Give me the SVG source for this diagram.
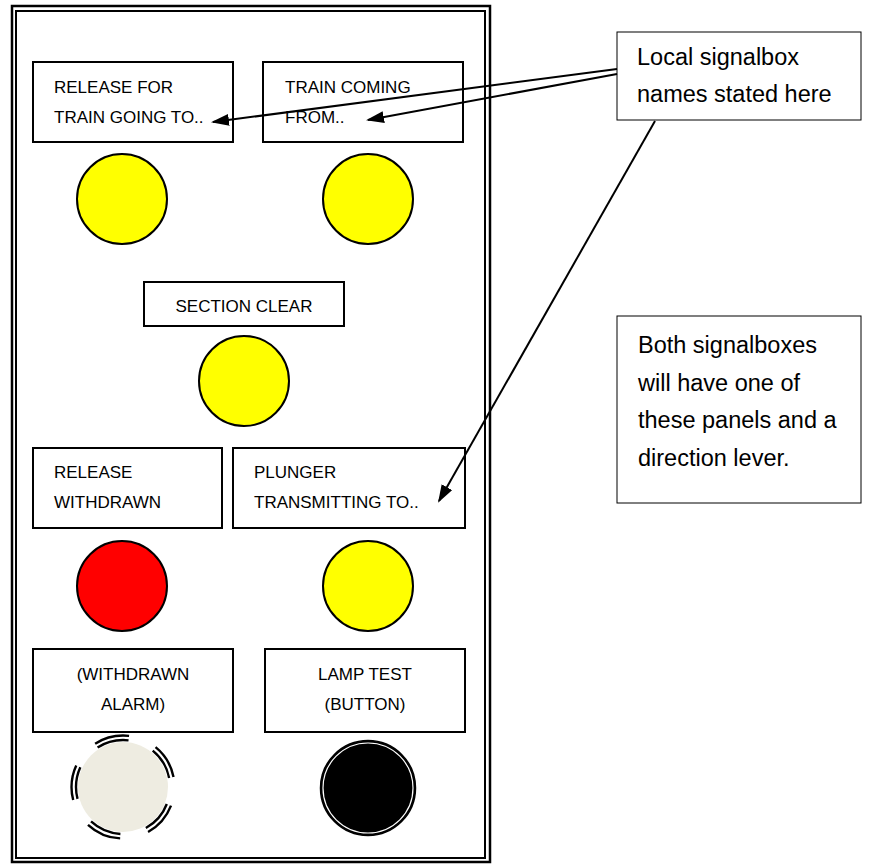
<svg xmlns="http://www.w3.org/2000/svg" width="889" height="865" viewBox="0 0 889 865">
<style>
.box{fill:#fff;stroke:#000;stroke-width:2}
.t{font-family:"Liberation Sans",Arial,sans-serif;font-size:17px;fill:#000}
.tc{text-anchor:middle}
.big{font-family:"Liberation Sans",Arial,sans-serif;font-size:23.5px;fill:#000}
.lamp{stroke:#000;stroke-width:2}
.conn{stroke:#000;stroke-width:2;fill:none;marker-end:url(#ah)}
.ring{fill:none;stroke:#000;stroke-width:2.4;stroke-dasharray:11 9;stroke-dashoffset:14.1}
</style>
<defs>
<marker id="ah" viewBox="0 0 18 12" refX="16" refY="6" markerWidth="18" markerHeight="12" markerUnits="userSpaceOnUse" orient="auto">
<path d="M0,0 L18,6 L0,12 z" fill="#000"/>
</marker>
</defs>
<rect width="889" height="865" fill="#fff"/>
<g id="panel">
<rect x="12" y="6" width="478" height="856" fill="none" stroke="#000" stroke-width="2.5"/>
<rect x="16" y="11" width="469" height="847" fill="none" stroke="#000" stroke-width="2"/>
</g>
<g id="n-release-for">
<rect class="box" x="33" y="62" width="200" height="80"/>
<text class="t" x="54" y="93">RELEASE FOR</text>
<text class="t" x="54" y="123">TRAIN GOING TO..</text>
</g>
<g id="n-train-coming">
<rect class="box" x="263" y="62" width="200" height="80"/>
<text class="t" x="285" y="93">TRAIN COMING</text>
<text class="t" x="285" y="123">FROM..</text>
</g>
<g id="lamp1"><circle class="lamp" cx="122" cy="199" r="45" fill="#ffff00"/></g>
<g id="lamp2"><circle class="lamp" cx="368" cy="199" r="45" fill="#ffff00"/></g>
<g id="n-section-clear">
<rect class="box" x="144" y="282" width="200" height="44"/>
<text class="t tc" x="244" y="312">SECTION CLEAR</text>
</g>
<g id="lamp3"><circle class="lamp" cx="244" cy="381" r="45" fill="#ffff00"/></g>
<g id="n-release-withdrawn">
<rect class="box" x="33" y="448" width="189" height="80"/>
<text class="t" x="54" y="478">RELEASE</text>
<text class="t" x="54" y="508">WITHDRAWN</text>
</g>
<g id="n-plunger">
<rect class="box" x="233" y="448" width="232" height="80"/>
<text class="t" x="254" y="478">PLUNGER</text>
<text class="t" x="254" y="508">TRANSMITTING TO..</text>
</g>
<g id="lamp4"><circle class="lamp" cx="122" cy="586" r="45" fill="#ff0000"/></g>
<g id="lamp5"><circle class="lamp" cx="368" cy="586" r="45" fill="#ffff00"/></g>
<g id="n-withdrawn-alarm">
<rect class="box" x="33" y="649" width="200" height="83"/>
<text class="t tc" x="133" y="680">(WITHDRAWN</text>
<text class="t tc" x="133" y="710">ALARM)</text>
</g>
<g id="n-lamp-test">
<rect class="box" x="265" y="649" width="200" height="83"/>
<text class="t tc" x="365" y="680">LAMP TEST</text>
<text class="t tc" x="365" y="710">(BUTTON)</text>
</g>
<g id="alarm">
<circle cx="123" cy="787" r="45" fill="#eeece1"/>
<circle class="ring" cx="123" cy="787" r="47" pathLength="100"/>
<circle class="ring" cx="123" cy="787" r="51.5" pathLength="100"/>
</g>
<g id="button">
<circle cx="368" cy="788" r="47.5" fill="#000" stroke="#000" stroke-width="1.5"/>
<circle cx="368" cy="788" r="45" fill="none" stroke="#fff" stroke-width="1.2"/>
</g>
<g id="n-local-names">
<rect x="617" y="32" width="244" height="88" fill="#fff" stroke="#000" stroke-width="1"/>
<text class="big" x="637" y="65">Local signalbox</text>
<text class="big" x="637" y="102">names stated here</text>
</g>
<g id="n-both">
<rect x="617" y="316" width="244" height="187" fill="#fff" stroke="#000" stroke-width="1"/>
<text class="big" x="638" y="353">Both signalboxes</text>
<text class="big" x="638" y="391">will have one of</text>
<text class="big" x="638" y="428">these panels and a</text>
<text class="big" x="638" y="466">direction lever.</text>
</g>
<g id="connectors">
<line class="conn" x1="617" y1="69" x2="213" y2="122"/>
<line class="conn" x1="617" y1="74" x2="368" y2="120"/>
<line class="conn" x1="655" y1="121" x2="439" y2="501"/>
</g>
</svg>
